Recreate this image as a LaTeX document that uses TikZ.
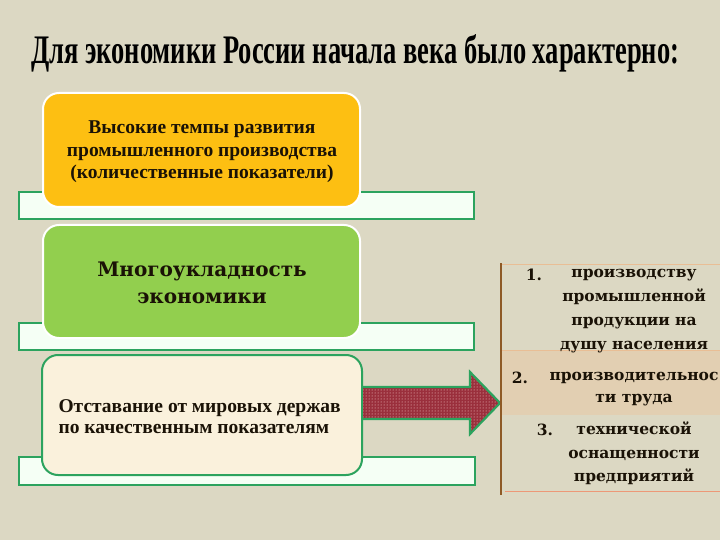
\documentclass[tikz,border=0pt]{standalone}
\usepackage{fontspec}
\setmainfont{Liberation Serif}
\newfontfamily\cambr{DejaVu Serif}
\usetikzlibrary{patterns}
\definecolor{bgc}{HTML}{DCD8C3}
\definecolor{orangec}{HTML}{FDBF12}
\definecolor{greenc}{HTML}{92CF4E}
\definecolor{creamc}{HTML}{FAF1DC}
\definecolor{stripb}{HTML}{2CA35E}
\definecolor{arrowr}{HTML}{9A2F3C}
\definecolor{brownl}{HTML}{8E5A26}
\definecolor{tanl}{HTML}{E9BE95}
\definecolor{bandc}{HTML}{E2CFB2}
\definecolor{txt}{HTML}{1A1206}
\tikzset{
  strip/.style={draw=stripb, line width=1.6pt, fill=white!96!green},
  bigbox/.style={rounded corners=16pt, line width=2pt},
  itemtxt/.style={font=\cambr\bfseries\fontsize{15.5}{24}\selectfont, text=txt, align=center, inner sep=0pt},
  numtxt/.style={font=\cambr\bfseries\fontsize{15.5}{24}\selectfont, text=txt, inner sep=0pt},
}
\begin{document}
\begin{tikzpicture}[x=1pt,y=-1pt]
\fill[bgc] (0,0) rectangle (720,540);
\useasboundingbox (0,0) rectangle (720,540);
% title
\node[anchor=base west, inner sep=0pt, text=black] (title) at (31,64)
  {\resizebox{648pt}{29pt}{\bfseries Для экономики России начала века было характерно:}};
% strips
\draw[strip] (19,192) rectangle (474,219);
\draw[strip] (19,323) rectangle (474,350);
\draw[strip] (19,457) rectangle (475,485);
% boxes
\draw[bigbox, fill=orangec, draw=white] (43,93) rectangle (360,207);
\node[font=\bfseries\fontsize{19.5}{22.5}\selectfont, text=txt, align=center] (b1) at (202,152)
  {Высокие темпы развития\\промышленного производства\\(количественные показатели)};
\draw[bigbox, fill=greenc, draw=white] (43,225) rectangle (360,338);
\node[font=\cambr\bfseries\fontsize{20}{27}\selectfont, text=txt, align=center] (b2) at (202,283)
  {Многоукладность\\экономики};
\draw[bigbox, fill=creamc, draw=stripb] (42,355) rectangle (362,475);
\node[anchor=west, font=\bfseries\fontsize{19.5}{21}\selectfont, text=txt, align=left] (b3) at (55,417)
  {Отставание от мировых держав\\по качественным показателям};
% arrow
\path[fill=arrowr, postaction={pattern=dots, pattern color=white!85!red}]
  (363,387) -- (470,387) -- (470,372) -- (500,403) -- (470,434) -- (470,419) -- (363,419) -- cycle;
\draw[stripb, line width=2.2pt, line join=miter]
  (363,387) -- (470,387) -- (470,372) -- (500,403) -- (470,434) -- (470,419) -- (363,419);
% right panel
\fill[bandc] (501,350) rectangle (720,415);
\draw[tanl, line width=1pt] (501,264) -- (720,264);
\draw[tanl, line width=0.8pt] (501,350) -- (720,350);
\draw[tanl!80!red, line width=0.8pt] (505,491) -- (720,491);
\draw[brownl, line width=2.6pt] (501,263) -- (501,495);
\node[numtxt] (n1) at (534,275) {1.};
\node[itemtxt] (t1) at (634,311.5) {производству\\промышленной\\продукции на\\душу населения};
\node[numtxt] (n2) at (520,378) {2.};
\node[itemtxt, font=\cambr\bfseries\fontsize{15.5}{22}\selectfont] (t2) at (634,389) {производительнос\\ти труда};
\node[numtxt] (n3) at (545,430) {3.};
\node[itemtxt, font=\cambr\bfseries\fontsize{15.5}{23.5}\selectfont] (t3) at (634,453.5) {технической\\оснащенности\\предприятий};
\end{tikzpicture}
\end{document}
